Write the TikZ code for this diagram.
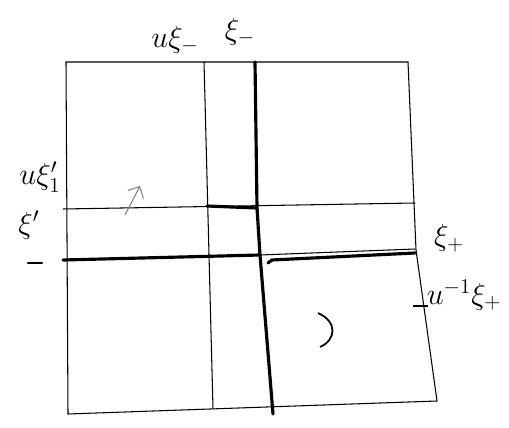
\documentclass[tikz,border=0pt]{standalone}
\usetikzlibrary{arrows.meta}

\begin{document}
\begin{tikzpicture}[x=0.02cm, y=-0.02cm, every node/.style={font=\LARGE, inner sep=0pt},
    thinline/.style={line width=0.6pt},
    thickline/.style={line width=1.8pt, line cap=round}]
    \useasboundingbox (0,0) rectangle (509,428);

    % outer square
    \coordinate (tl) at (66,62);
    \coordinate (tr) at (408,62);
    \coordinate (rm) at (416,250);
    \coordinate (br) at (437,401);
    \coordinate (bl) at (68,414);
    \draw[thinline] (tl) -- (tr) -- (rm) -- (br) -- (bl) -- cycle;

    % vertical lines
    \coordinate (v1t) at (204,62);
    \coordinate (v1b) at (213,409);
    \coordinate (v2t) at (255,62);
    \coordinate (x1) at (257,208);
    \coordinate (x2) at (260,255);
    \coordinate (v2b) at (273,414);
    \draw[thinline] (v1t) -- (v1b);
    \draw[thickline] (v2t) -- (x1) -- (x2) -- (v2b);

    % horizontal lines
    \coordinate (h1l) at (63,209);
    \coordinate (h1r) at (415,203);
    \coordinate (h1m) at (207,206);
    \coordinate (h2l) at (63,260);
    \coordinate (h2r) at (415,249);
    \coordinate (k1) at (268,263);
    \coordinate (k2) at (333,257);
    \coordinate (k3) at (415,253);
    \draw[thinline] (h1l) -- (h1r);
    \draw[thickline] (h1m) -- (x1);
    \draw[thickline] (h2l) -- (x2);
    \draw[thinline] (x2) -- (h2r);
    \draw[thickline] (k1) -- (272,260) -- (k2) -- (k3);

    % ticks
    \coordinate (tkla) at (28,263);
    \coordinate (tklb) at (42,263);
    \coordinate (tkra) at (413,306);
    \coordinate (tkrb) at (428,306);
    \draw[thickline, line width=1.2pt] (tkla) -- (tklb);
    \draw[thinline, line width=1pt] (tkra) -- (tkrb);

    % marks inside
    \coordinate (arA) at (125,215);
    \coordinate (arB) at (140,186);
    \draw[thinline, gray, -{Straight Barb[length=5pt]}] (arA) -- (arB);
    \coordinate (crA) at (318,313);
    \coordinate (crB) at (320,347);
    \draw[thinline, line width=1pt] (crA) .. controls (338,322) and (336,340) .. (crB);

    % labels
    \node (lbluxim) at (175,40) {$u\xi_-$};
    \node (lblxim) at (240,32) {$\xi_-$};
    \node (lbluxip) at (40,177) {$u\xi'_1$};
    \node (lblxip) at (29,225) {$\xi'$};
    \node (lblxiplus) at (449,238) {$\xi_+$};
    \node (lbluinv) at (464,295) {$u^{-1}\xi_+$};
\end{tikzpicture}
\end{document}
